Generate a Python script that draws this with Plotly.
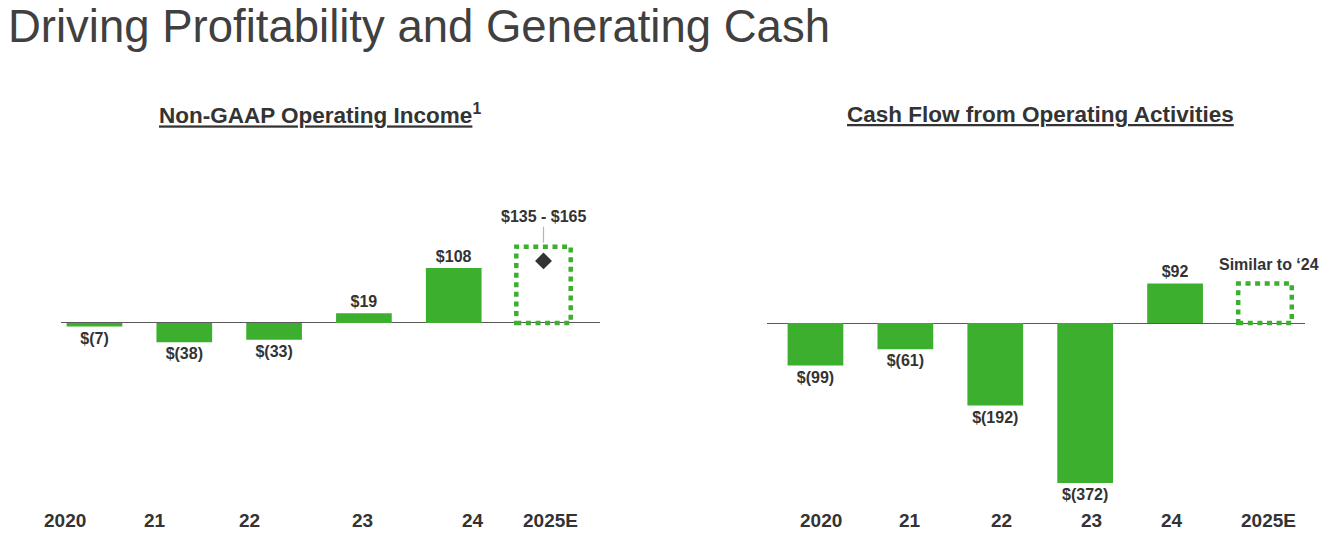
import plotly.graph_objects as go

# ---- data ----
years = ["2020", "21", "22", "23", "24", "2025E"]
actual_years = ["2020", "21", "22", "23", "24"]

op_income = [-7, -38, -33, 19, 108]          # Non-GAAP operating income ($M)
op_income_2025_box_top = 150                 # dotted guidance box height (as drawn)
op_income_2025_marker = 122                  # diamond marker (as drawn)
op_income_2025_label = "$135 - $165"

cash_flow = [-99, -61, -192, -372, 92]       # Cash flow from operating activities ($M)
cash_flow_2025_box_top = 92                  # "similar to '24"
cash_flow_2025_label = "Similar to ‘24"

title = "Driving Profitability and Generating Cash"
left_title = "<u>Non-GAAP Operating Income</u><sup>1</sup>"
right_title = "<u>Cash Flow from Operating Activities</u>"

# ---- style ----
PAGE_MARGIN = 8          # browser default body margin
W, H = 1328 - 2 * PAGE_MARGIN, 550 - 2 * PAGE_MARGIN
GREEN = "#3CAF2E"
TXT = "#333333"
FONT = "Liberation Sans"

def money(v):
    return f"${v}" if v >= 0 else f"$({-v})"

def px_x(p):
    return (p - PAGE_MARGIN) / W

def px_y(p):
    return 1 - (p - PAGE_MARGIN) / H

fig = go.Figure()

fig.add_trace(go.Bar(
    x=actual_years, y=op_income, xaxis="x", yaxis="y",
    marker=dict(color=GREEN, line=dict(width=0)), width=0.62,
    text=[money(v) for v in op_income], textposition="outside",
    textfont=dict(family=FONT, size=16, color=TXT, weight="bold"),
    cliponaxis=False, constraintext="none", hoverinfo="skip"))

fig.add_trace(go.Scatter(
    x=[years[-1]], y=[op_income_2025_marker], xaxis="x", yaxis="y",
    mode="markers", marker=dict(symbol="diamond", size=13, color="#333333"),
    cliponaxis=False, hoverinfo="skip"))

fig.add_trace(go.Bar(
    x=actual_years, y=cash_flow, xaxis="x2", yaxis="y2",
    marker=dict(color=GREEN, line=dict(width=0)), width=0.62,
    text=[money(v) for v in cash_flow], textposition="outside",
    textfont=dict(family=FONT, size=16, color=TXT, weight="bold"),
    cliponaxis=False, constraintext="none", hoverinfo="skip"))

yd = [px_y(510), px_y(140)]
fig.update_layout(
    width=W, height=H, margin=dict(l=0, r=0, t=0, b=0),
    paper_bgcolor="white", plot_bgcolor="white", showlegend=False,
    xaxis=dict(domain=[px_x(61), px_x(600)], type="category",
               categoryorder="array", categoryarray=years,
               range=[-0.373, 5.629], visible=False),
    yaxis=dict(domain=yd, range=[-367.4, 359.5], showgrid=False,
               showticklabels=False, ticks="", showline=False,
               zeroline=True, zerolinecolor="#595959", zerolinewidth=1.3),
    xaxis2=dict(domain=[px_x(767), px_x(1305)], type="category",
                categoryorder="array", categoryarray=years,
                range=[-0.539, 5.445], visible=False, anchor="y2"),
    yaxis2=dict(domain=yd, range=[-434.9, 425.6], showgrid=False,
                showticklabels=False, ticks="", showline=False, anchor="x2",
                zeroline=True, zerolinecolor="#595959", zerolinewidth=1.3),
)

dot = dict(color=GREEN, width=4.5, dash="5px,4.6px")
fig.add_shape(type="rect", xref="x", yref="y", x0=5 - 0.303, x1=5 + 0.303,
              y0=0, y1=op_income_2025_box_top, line=dot, fillcolor="rgba(0,0,0,0)")
fig.add_shape(type="rect", xref="x2", yref="y2", x0=5 - 0.298, x1=5 + 0.298,
              y0=0, y1=cash_flow_2025_box_top, line=dot, fillcolor="rgba(0,0,0,0)")

ann = []
ann.append(dict(text=title, x=0, y=px_y(27), xref="paper", yref="paper",
                xanchor="left", yanchor="middle", showarrow=False,
                borderpad=0, borderwidth=0,
                font=dict(family=FONT, size=45.5, color="#404040")))
ann.append(dict(text=left_title, x=px_x(320), y=px_y(114), xref="paper", yref="paper",
                xanchor="center", yanchor="middle", showarrow=False,
                font=dict(family=FONT, size=22.5, color=TXT, weight="bold")))
ann.append(dict(text=right_title, x=px_x(1040.5), y=px_y(114), xref="paper", yref="paper",
                xanchor="center", yanchor="middle", showarrow=False,
                font=dict(family=FONT, size=22.5, color=TXT, weight="bold")))

ann.append(dict(text=op_income_2025_label, x=5, y=op_income_2025_box_top,
                xref="x", yref="y", showarrow=True, arrowhead=0, ax=0, ay=-30,
                arrowcolor="#b5b5b5", arrowwidth=1.2, standoff=4,
                font=dict(family=FONT, size=16, color=TXT, weight="bold")))
ann.append(dict(text=cash_flow_2025_label, x=5, y=cash_flow_2025_box_top,
                xref="x2", yref="y2", showarrow=False, xshift=4, yshift=19,
                yanchor="middle",
                font=dict(family=FONT, size=16, color=TXT, weight="bold")))

left_shift = [-29.5, -29.3, -25.1, -1.9, 19.3, 6.5]
right_shift = [5.5, 4.6, 6.7, 6.8, -3.1, 4.0]
for i, yr in enumerate(years):
    for xr, sh in (("x", left_shift[i]), ("x2", right_shift[i])):
        ann.append(dict(text=yr, x=i, y=px_y(520), xref=xr, yref="paper",
                        xshift=sh, xanchor="center", yanchor="middle",
                        showarrow=False,
                        font=dict(family=FONT, size=19, color=TXT, weight="bold")))

fig.update_layout(annotations=ann)
fig.write_html("out.html")
